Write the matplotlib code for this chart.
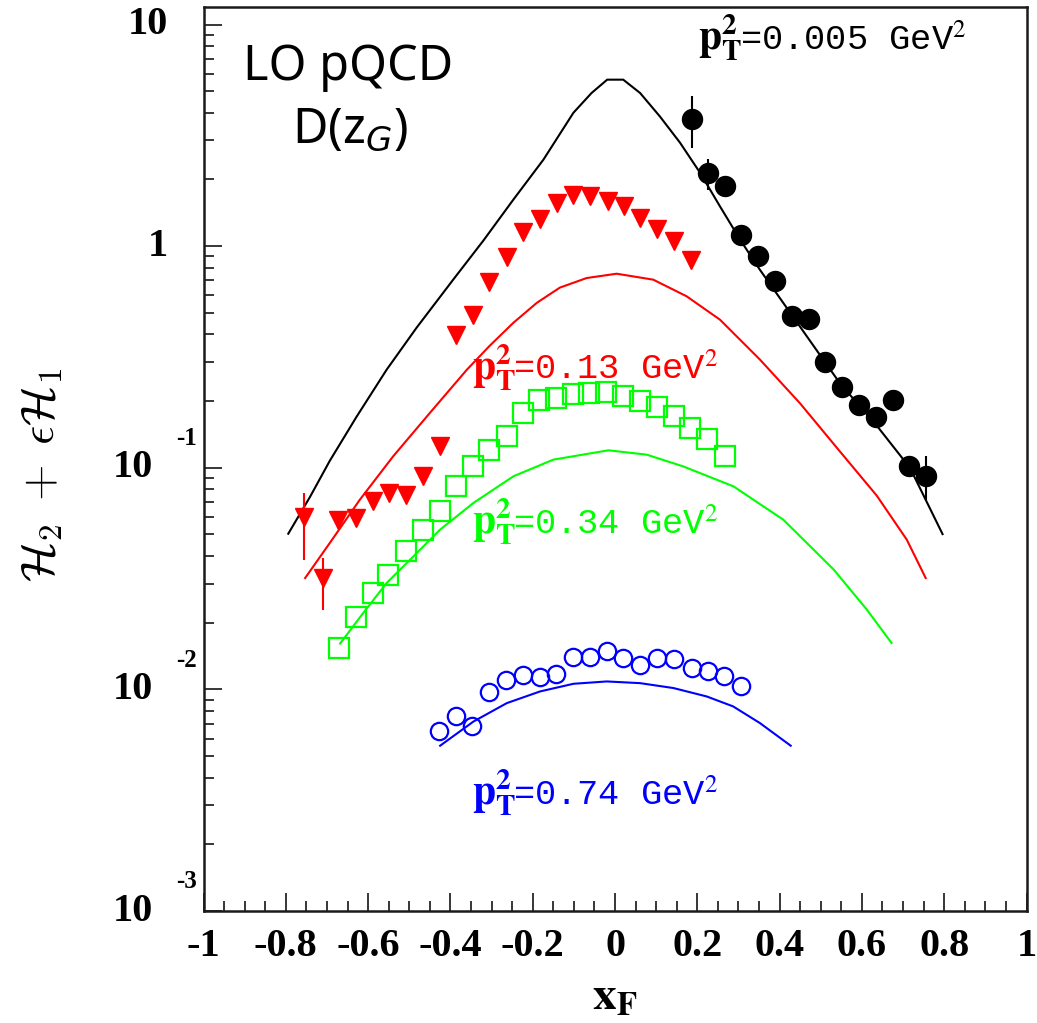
import numpy as np
import matplotlib
matplotlib.use("Agg")
import matplotlib.pyplot as plt
from matplotlib import transforms
from matplotlib.ticker import MultipleLocator, LogLocator, NullFormatter

# data points, one set per pT^2 bin
x_black = [0.186, 0.226, 0.267, 0.306, 0.348, 0.389, 0.430, 0.471, 0.510, 0.552,
           0.594, 0.634, 0.675, 0.715, 0.756]
y_black = [3.75, 2.14, 1.875, 1.12, 0.906, 0.694, 0.482, 0.469, 0.300, 0.232,
           0.191, 0.170, 0.203, 0.102, 0.0915]
err_lo_black = [0.98, 0.34, 0, 0, 0, 0, 0, 0, 0, 0, 0, 0, 0, 0, 0.020]
err_hi_black = [0.99, 0.34, 0, 0, 0, 0, 0, 0, 0, 0, 0, 0, 0, 0, 0.022]

x_red = [-0.756, -0.710, -0.672, -0.629, -0.589, -0.548, -0.508, -0.466, -0.425, -0.386,
         -0.344, -0.305, -0.263, -0.223, -0.182, -0.142, -0.101, -0.060, -0.018, 0.022,
         0.061, 0.101, 0.143, 0.184]
y_red = [0.0600, 0.0318, 0.0583, 0.0593, 0.0705, 0.0769, 0.0756, 0.0921, 0.125, 0.399,
         0.491, 0.687, 0.894, 1.157, 1.331, 1.572, 1.708, 1.678, 1.604, 1.512,
         1.341, 1.196, 1.051, 0.869]
err_lo_red = [0.0215, 0.0089] + [0] * 22
err_hi_red = [0.0170, 0.0075] + [0] * 22

x_green = [-0.671, -0.629, -0.589, -0.551, -0.508, -0.466, -0.425, -0.386, -0.346, -0.305,
           -0.263, -0.223, -0.184, -0.143, -0.103, -0.062, -0.021, 0.020, 0.061, 0.101,
           0.143, 0.183, 0.224, 0.267]
y_green = [0.0154, 0.0213, 0.0272, 0.0329, 0.0423, 0.0522, 0.0635, 0.0824, 0.1014, 0.1207,
           0.1396, 0.1768, 0.2014, 0.2065, 0.2160, 0.2176, 0.2189, 0.2115, 0.1993, 0.1887,
           0.1718, 0.1509, 0.1349, 0.1134]

x_blue = [-0.428, -0.387, -0.347, -0.306, -0.265, -0.223, -0.182, -0.143, -0.101, -0.061,
          -0.019, 0.020, 0.061, 0.101, 0.143, 0.186, 0.227, 0.265, 0.305]
y_blue = [0.00646, 0.00760, 0.00681, 0.00969, 0.01098, 0.01165, 0.01138, 0.01177, 0.01400, 0.01400,
          0.01484, 0.01386, 0.01292, 0.01386, 0.01371, 0.01250, 0.01206, 0.01145, 0.01040]

# LO pQCD curves
xc_black = [-0.794, -0.741, -0.693, -0.628, -0.555, -0.482, -0.393, -0.320, -0.247, -0.174,
            -0.101, -0.057, -0.019, 0.020, 0.061, 0.109, 0.158, 0.207, 0.255, 0.304,
            0.352, 0.417, 0.482, 0.547, 0.636, 0.717, 0.796]
yc_black = [0.0504, 0.0740, 0.1076, 0.170, 0.277, 0.429, 0.707, 1.059, 1.622, 2.456,
            4.00, 4.91, 5.64, 5.64, 4.91, 3.85, 2.93, 2.14, 1.513, 1.070,
            0.783, 0.528, 0.356, 0.240, 0.155, 0.0998, 0.0502]

xc_red = [-0.753, -0.693, -0.620, -0.539, -0.450, -0.360, -0.304, -0.247, -0.190, -0.134,
          -0.069, 0.004, 0.093, 0.174, 0.255, 0.352, 0.450, 0.547, 0.636, 0.709, 0.755]
yc_red = [0.0318, 0.0458, 0.0718, 0.1127, 0.1767, 0.277, 0.356, 0.451, 0.555, 0.650,
          0.718, 0.751, 0.706, 0.594, 0.466, 0.308, 0.195, 0.1182, 0.0749, 0.0474, 0.0318]

xc_green = [-0.668, -0.612, -0.555, -0.490, -0.425, -0.344, -0.247, -0.150, -0.016, 0.077,
            0.166, 0.288, 0.409, 0.531, 0.612, 0.672]
yc_green = [0.0161, 0.0221, 0.0302, 0.0398, 0.0526, 0.0694, 0.0915, 0.1088, 0.1199, 0.1146,
            0.1014, 0.0824, 0.0583, 0.0348, 0.0229, 0.0162]

xc_blue = [-0.425, -0.344, -0.263, -0.182, -0.101, -0.020, 0.061, 0.142, 0.223, 0.287,
           0.352, 0.427]
yc_blue = [0.00557, 0.00716, 0.00867, 0.00979, 0.01060, 0.01086, 0.01067, 0.01014, 0.00929, 0.00838,
           0.00705, 0.00557]

pt2_values = ["0.005", "0.13", "0.34", "0.74"]
xtick_vals = [-1, -0.8, -0.6, -0.4, -0.2, 0, 0.2, 0.4, 0.6, 0.8, 1]
xtick_text = ["-1", "-0.8", "-0.6", "-0.4", "-0.2", "0", "0.2", "0.4", "0.6", "0.8", "1"]

GREEN = (0.0, 1.0, 0.0)
serif = "Liberation Serif"

fig = plt.figure(figsize=(10.37, 10.23), dpi=100)
ax = fig.add_axes([0.19624, 0.10948, 0.79364, 0.88368])
ax.set_yscale("log")
ax.set_xlim(-1, 1)
ax.set_ylim(1e-3, 12.0)

# curves
ax.plot(xc_black, yc_black, color="black", lw=1.5, zorder=2)
ax.plot(xc_red, yc_red, color="red", lw=1.5, zorder=2)
ax.plot(xc_green, yc_green, color=GREEN, lw=1.5, zorder=2)
ax.plot(xc_blue, yc_blue, color="blue", lw=1.5, zorder=2)

# data
ax.errorbar(x_black, y_black, yerr=[err_lo_black, err_hi_black], fmt="o", ms=14.4,
            color="black", elinewidth=1.5, capsize=0, zorder=3)
ax.errorbar(x_red, y_red, yerr=[err_lo_red, err_hi_red], fmt="v", ms=13,
            color="red", elinewidth=1.5, capsize=0, zorder=3)
ax.plot(x_green, y_green, "s", ms=14, mfc="none", mec=GREEN, mew=1.6, zorder=3)
ax.plot(x_blue, y_blue, "o", ms=12.5, mfc="none", mec="blue", mew=1.6, zorder=3)

# pT^2 labels: bold serif p_T^2 followed by courier text
shifted = transforms.offset_copy(ax.transData, fig=fig, x=30, y=0, units="points")

def pt_label(x, y, val, color):
    ax.text(x, y, r"$\mathbf{p}_{\mathbf{T}}^{\mathbf{2}}$", color=color, fontsize=30,
            math_fontfamily="stix", ha="left", va="baseline", zorder=4)
    ax.text(x, y, "=" + val + r" GeV$^{2}$", transform=shifted, color=color,
            fontsize=25.5, family="Liberation Mono", math_fontfamily="stix",
            ha="left", va="baseline", zorder=4)

pt_label(0.202, 7.7, pt2_values[0], "black")
pt_label(-0.348, 0.25, pt2_values[1], "red")
pt_label(-0.348, 0.0504, pt2_values[2], GREEN)
pt_label(-0.348, 0.00302, pt2_values[3], "blue")

# axes styling
for sp in ax.spines.values():
    sp.set_linewidth(1.8)
    sp.set_color("#1a1a1a")
ax.tick_params(which="both", direction="in", top=False, right=False, width=1.1)
ax.tick_params(which="major", length=13)
ax.tick_params(which="minor", length=7)
ax.set_xticks(xtick_vals)
ax.set_xticklabels(xtick_text, fontsize=29, fontweight="bold", family=serif)
ax.tick_params(axis="x", pad=12)
ax.xaxis.set_minor_locator(MultipleLocator(0.05))
ax.set_yticks([1e-3, 1e-2, 1e-1, 1, 10])
ax.set_yticklabels([])
ax.yaxis.set_minor_locator(LogLocator(base=10, subs=np.arange(2, 10)))
ax.yaxis.set_minor_formatter(NullFormatter())

# ROOT style y labels: 10 with exponent above
ytr = transforms.blended_transform_factory(ax.transAxes, ax.transData)
ax.text(-0.043, 10, "10", transform=ytr, ha="right", va="center", fontsize=29,
        fontweight="bold", family=serif)
ax.text(-0.043, 1, "1", transform=ytr, ha="right", va="center", fontsize=29,
        fontweight="bold", family=serif)
exp_tr = transforms.offset_copy(ytr, fig=fig, x=0, y=21, units="points")
for k in [1, 2, 3]:
    ax.text(-0.0614, 10.0 ** -k, "10", transform=ytr, ha="right", va="center",
            fontsize=29, fontweight="bold", family=serif)
    ax.text(-0.0075, 10.0 ** -k, "-%d" % k, transform=exp_tr, ha="right", va="center",
            fontsize=18, fontweight="bold", family=serif)

# axis titles
fig.text(0.0405, 1 - 475 / 1023, r"$\mathcal{H}_2\;+\;\epsilon\mathcal{H}_1$", rotation=90,
         ha="center", va="center", fontsize=34, math_fontfamily="cm")
fig.text(0.593, 0.025, r"$\mathbf{x}_{\mathbf{F}}$", ha="center", va="center",
         fontsize=34, math_fontfamily="stix")

# model annotation
fig.text(0.3356, 1 - 67 / 1023, "LO pQCD", ha="center", va="center", fontsize=35,
         family="Noto Sans")
fig.text(0.3375, 1 - 130 / 1023, r"D(z$_{G}$)", ha="center", va="center", fontsize=35,
         family="Noto Sans", math_fontfamily="dejavusans")

fig.savefig("out.png", dpi=100)
